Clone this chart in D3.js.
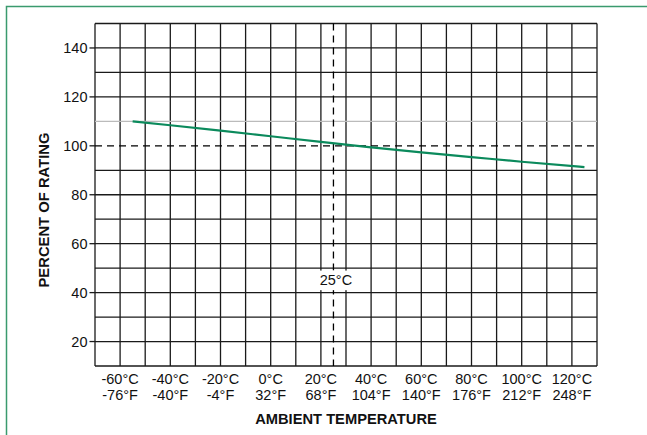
<!DOCTYPE html>
<html><head><meta charset="utf-8">
<script src="https://cdn.jsdelivr.net/npm/d3@7"></script>
<style>body{margin:0;background:#fff}svg{display:block}text{font-family:"Liberation Sans",Arial,sans-serif}</style>
</head><body>
<svg id="c" width="647" height="435"></svg>
<script>
const tempsC = [-55, -40, -20, 0, 20, 40, 60, 80, 100, 125];
const percent = [110, 108.4, 106.2, 103.9, 101.6, 99.4, 97.3, 95.4, 93.5, 91.3];
const xTicksC = [-60, -40, -20, 0, 20, 40, 60, 80, 100, 120];
const xTicksF = ["-76°F", "-40°F", "-4°F", "32°F", "68°F", "104°F", "140°F", "176°F", "212°F", "248°F"];
const yTicks = [20, 40, 60, 80, 100, 120, 140];
const refTemp = 25;
const refPercent = 100;
const grayLine = 110;

const svg = d3.select("#c");
const m = {l: 95, r: 597, t: 23.5, b: 366};
const x = d3.scaleLinear().domain([-70, 130]).range([m.l, m.r]);
const y = d3.scaleLinear().domain([10, 150]).range([m.b, m.t]);

// frame
svg.append("rect").attr("x", 6.5).attr("y", 6.5).attr("width", 700).attr("height", 500)
  .attr("fill", "none").attr("stroke", "#3a9a6e").attr("stroke-width", 1.5);

const g = svg.append("g");
// vertical grid
g.selectAll(".vg").data(d3.range(-70, 131, 10)).join("line")
  .attr("x1", d => x(d)).attr("x2", d => x(d)).attr("y1", m.t).attr("y2", m.b)
  .attr("stroke", "#1a1a1a").attr("stroke-width", 1.3);
// horizontal grid
g.selectAll(".hg").data(d3.range(10, 151, 10).filter(d => d !== refPercent)).join("line")
  .attr("x1", m.l).attr("x2", m.r).attr("y1", d => y(d)).attr("y2", d => y(d))
  .attr("stroke", d => d === grayLine ? "#bbb" : "#1a1a1a").attr("stroke-width", 1.3);
// y tick marks
g.selectAll(".yt").data(yTicks).join("line")
  .attr("x1", m.l - 5.5).attr("x2", m.l).attr("y1", d => y(d)).attr("y2", d => y(d))
  .attr("stroke", "#1a1a1a").attr("stroke-width", 1.3);

// dashed reference lines
g.append("line").attr("x1", m.l).attr("x2", m.r).attr("y1", y(refPercent)).attr("y2", y(refPercent))
  .attr("stroke", "#000").attr("stroke-width", 1.3).attr("stroke-dasharray", "7,5");
g.append("line").attr("x1", x(refTemp)).attr("x2", x(refTemp)).attr("y1", m.t).attr("y2", m.b)
  .attr("stroke", "#000").attr("stroke-width", 1.3).attr("stroke-dasharray", "7,5");

// 25°C label with white background
g.append("rect").attr("x", x(refTemp) - 16).attr("y", y(49)).attr("width", 35).attr("height", y(41) - y(49)).attr("fill", "#fff");
g.append("text").attr("x", x(refTemp) + 2.5).attr("y", y(45) + 5).attr("text-anchor", "middle")
  .attr("font-size", 14.5).attr("fill", "#111").text(refTemp + "°C");

// curve
const line = d3.line().x((d, i) => x(tempsC[i])).y(d => y(d)).curve(d3.curveMonotoneX);
g.append("path").datum(percent).attr("d", line).attr("fill", "none")
  .attr("stroke", "#0b8a5c").attr("stroke-width", 2.2);

// y labels
svg.selectAll(".yl").data(yTicks).join("text")
  .attr("x", 87.5).attr("y", d => y(d) + 5).attr("text-anchor", "end")
  .attr("font-size", 14.5).attr("fill", "#111").text(d => d);

// x labels
const xl = svg.selectAll(".xl").data(xTicksC).join("text")
  .attr("text-anchor", "middle").attr("font-size", 14.5).attr("fill", "#111");
xl.append("tspan").attr("x", d => x(d)).attr("y", 384).text(d => d + "°C");
xl.append("tspan").attr("x", d => x(d)).attr("y", 400).text((d, i) => xTicksF[i]);

// axis titles
svg.append("text").attr("x", 346).attr("y", 424).attr("text-anchor", "middle")
  .attr("font-size", 14.7).attr("font-weight", "bold").attr("fill", "#111").text("AMBIENT TEMPERATURE");
svg.append("text").attr("transform", "translate(49,210) rotate(-90)").attr("text-anchor", "middle")
  .attr("font-size", 14.8).attr("font-weight", "bold").attr("fill", "#111").text("PERCENT OF RATING");
</script>
</body></html>
